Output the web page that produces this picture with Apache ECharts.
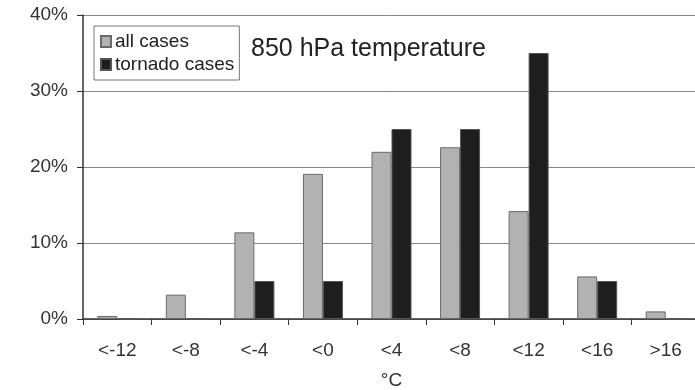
<!DOCTYPE html>
<html><head><meta charset="utf-8">
<script src="https://cdn.jsdelivr.net/npm/echarts@6/dist/echarts.min.js"></script>
<style>html,body{margin:0;padding:0;background:#fff}#c{width:695px;height:390px}</style>
</head><body><div id="c"></div>
<script>
const categories = ['<-12','<-8','<-4','<0','<4','<8','<12','<16','>16'];
const allCases = [0.4, 3.2, 11.4, 19.1, 22.0, 22.6, 14.2, 5.6, 1.0];
const tornadoCases = [0, 0, 5, 5, 25, 25, 35, 5, 0];
const yTicks = [0, 10, 20, 30, 40];

const chart = echarts.init(document.getElementById('c'));
const font = '"Liberation Sans", Arial, sans-serif';
chart.setOption({
  animation: false,
  backgroundColor: '#fff',
  title: {
    text: '850 hPa temperature', left: 251, top: 37, padding: 0,
    textStyle: {fontFamily: font, fontSize: 25, fontWeight: 'normal', color: '#222'}
  },
  legend: {
    orient: 'vertical', left: 94, top: 26,
    borderColor: '#777', borderWidth: 1,
    padding: [6, 5, 6, 6], itemGap: 4,
    itemWidth: 10, itemHeight: 11,
    textStyle: {fontFamily: font, fontSize: 19, color: '#222', padding: [0,0,0,-1]},
    data: [{name: 'all cases', icon: 'rect'}, {name: 'tornado cases', icon: 'rect'}]
  },
  grid: {left: 83, top: 15, width: 617, height: 304, outerBoundsMode: 'none', containLabel: false},
  xAxis: {
    type: 'category', data: categories,
    axisLine: {lineStyle: {color: '#333', width: 1.5}},
    axisTick: {show: true, length: 6, lineStyle: {color: '#333'}},
    axisLabel: {fontFamily: font, fontSize: 19, color: '#333', margin: 22},
    name: '°C', nameLocation: 'middle', nameGap: 52,
    nameTextStyle: {fontFamily: font, fontSize: 19, color: '#333'}
  },
  yAxis: {
    type: 'value', min: yTicks[0], max: yTicks[yTicks.length-1], interval: 10,
    axisLine: {show: true, lineStyle: {color: '#333', width: 1.5}},
    axisTick: {show: true, length: 6, lineStyle: {color: '#333'}},
    axisLabel: {fontFamily: font, fontSize: 19, color: '#333', margin: 15, formatter: '{value}%'},
    splitLine: {lineStyle: {color: '#888', width: 1}}
  },
  series: [
    {name: 'all cases', type: 'bar', data: allCases, barWidth: 20, barGap: '0%',
     itemStyle: {color: '#b2b2b2', borderColor: '#6a6a6a', borderWidth: 1}},
    {name: 'tornado cases', type: 'bar', data: tornadoCases, barWidth: 20,
     itemStyle: {color: '#1e1e1e', borderColor: '#555', borderWidth: 1}}
  ]
});
</script></body></html>
